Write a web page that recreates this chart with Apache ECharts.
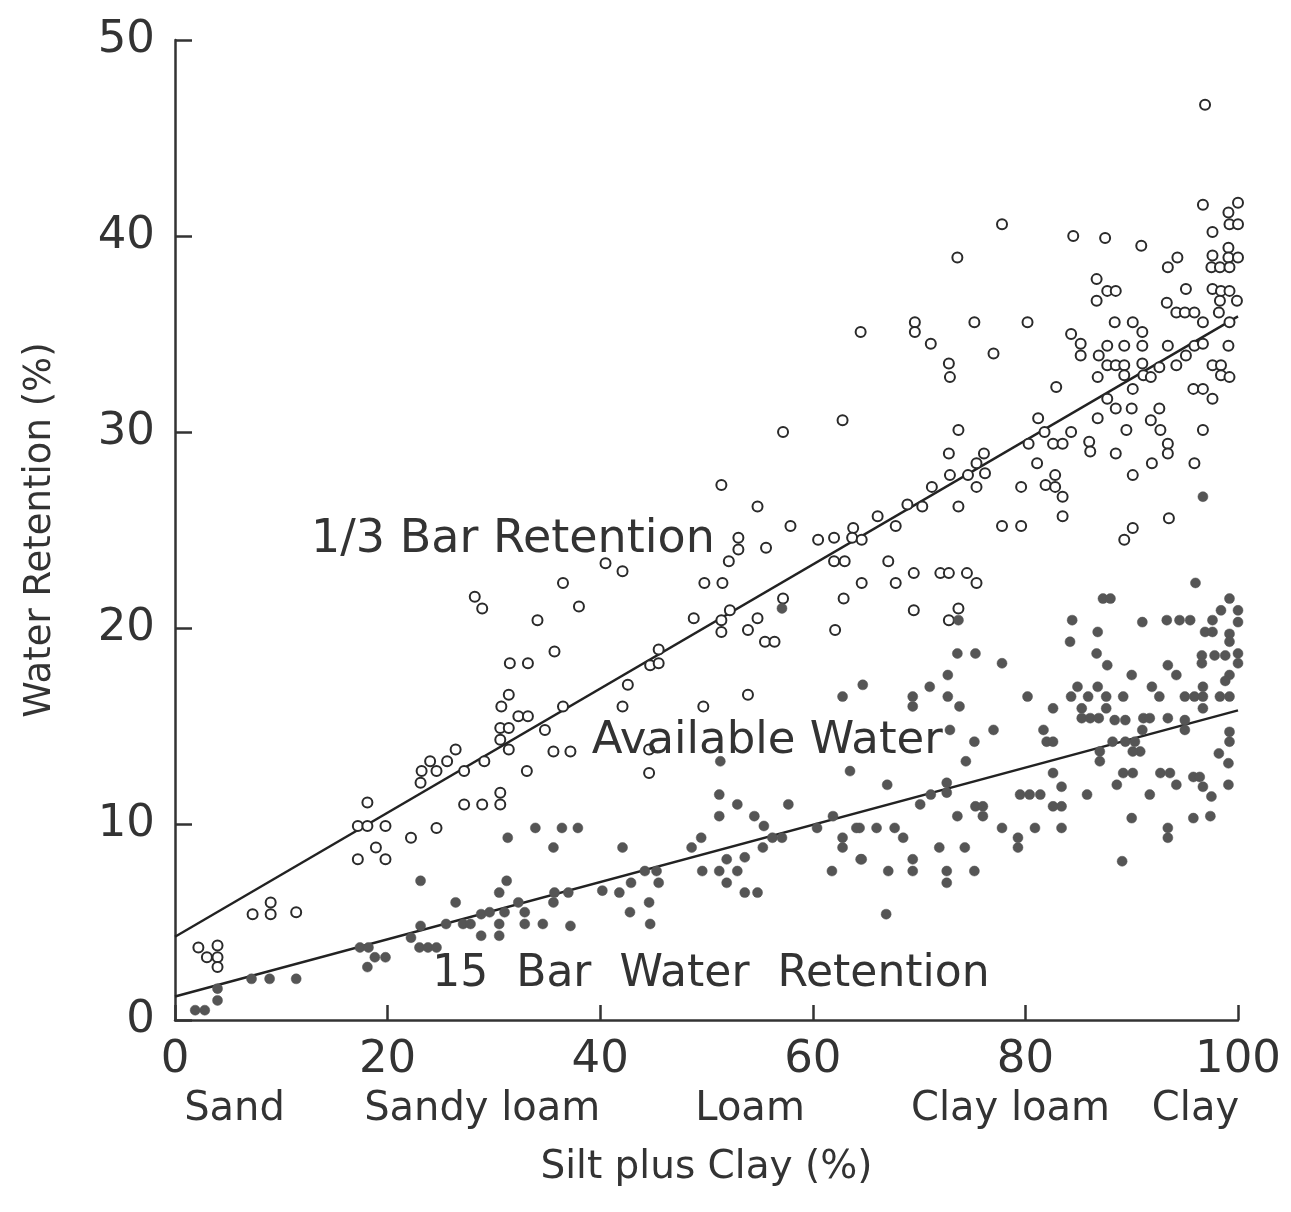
<!DOCTYPE html>
<html><head><meta charset="utf-8">
<script src="https://cdn.jsdelivr.net/npm/echarts@6/dist/echarts.min.js"></script>
<style>html,body{margin:0;padding:0;background:#fff}#c{width:1291px;height:1212px}</style>
</head><body><div id="c"></div>
<script>
// ---- data ----
const xTicks = [0, 20, 40, 60, 80, 100];
const yTicks = [0, 10, 20, 30, 40, 50];
const textureNames = ["Sand", "Sandy loam", "Loam", "Clay loam", "Clay"];
const textureAt = [5.6, 28.9, 54.1, 78.6, 96.0];
const fitThird = [[0, 4.25], [100, 35.9]];
const fitFifteen = [[0, 1.2], [100, 15.8]];
const thirdBar = [
[2.2,3.7],[4.0,3.8],[3.0,3.2],[4.0,3.2],[4.0,2.7],[7.3,5.4],[9.0,6.0],[9.0,5.4],[11.4,5.5],
[17.2,9.9],[18.1,9.9],[19.8,9.9],[18.1,11.1],[17.2,8.2],[18.9,8.8],[19.8,8.2],[22.2,9.3],[24.6,9.8],
[23.1,12.1],[23.2,12.7],[24.0,13.2],[24.6,12.7],[25.6,13.2],
[28.2,21.6],[28.9,21.0],[36.5,22.3],[38.0,21.1],[34.1,20.4],[35.7,18.8],[31.5,18.2],[33.2,18.2],
[31.4,16.6],[30.7,16.0],[32.3,15.5],[33.2,15.5],[30.6,14.9],[31.4,14.9],[30.6,14.3],[34.8,14.8],
[36.5,16.0],[42.1,16.0],[42.6,17.1],[40.5,23.3],[42.1,22.9],[31.4,13.8],[35.6,13.7],[37.2,13.7],
[33.1,12.7],[30.6,11.6],[30.6,11.0],[28.9,11.0],[27.2,11.0],[29.1,13.2],[27.2,12.7],[26.4,13.8],
[57.2,30.0],[62.8,30.6],[51.4,27.3],[54.8,26.2],[57.9,25.2],[53.0,24.6],[53.0,24.0],[55.6,24.1],
[52.1,23.4],[49.8,22.3],[51.5,22.3],[60.5,24.5],[62.0,24.6],[63.8,25.1],[63.7,24.6],[64.6,24.5],
[66.1,25.7],[67.8,25.2],[62.0,23.4],[63.0,23.4],[67.1,23.4],[64.6,22.3],[67.8,22.3],[62.9,21.5],
[62.1,19.9],[57.2,21.5],[52.2,20.9],[48.8,20.5],[51.4,20.4],[51.4,19.8],[54.8,20.5],[53.9,19.9],
[55.5,19.3],[56.4,19.3],[45.5,18.9],[44.7,18.1],[45.5,18.2],[53.9,16.6],
[64.5,35.1],[44.6,12.6],[44.6,13.8],[49.7,16.0],
[77.8,40.6],[73.6,38.9],[84.5,40.0],[87.5,39.9],[90.9,39.5],[96.7,41.6],[100,41.7],[99.1,41.2],
[99.2,40.6],[100,40.6],[97.6,40.2],[94.3,38.9],[93.4,38.4],[97.6,39.0],[99.1,39.4],[99.1,38.9],
[100,38.9],[97.5,38.4],[98.3,38.4],[99.2,38.4],[86.7,37.8],[87.7,37.2],[88.5,37.2],[86.7,36.7],
[95.1,37.3],[97.6,37.3],[98.4,37.2],[99.2,37.2],[98.3,36.7],[99.9,36.7],[93.3,36.6],[94.2,36.1],
[95.0,36.1],[95.9,36.1],[98.2,36.1],[96.7,35.6],[99.2,35.6],[69.6,35.6],[69.6,35.1],[75.2,35.6],
[80.2,35.6],[71.1,34.5],[77.0,34.0],[72.8,33.5],[72.9,32.8],[84.3,35.0],[85.2,34.5],[85.2,33.9],
[86.9,33.9],[88.4,35.6],[90.1,35.6],[91.0,35.1],[87.7,34.4],[89.3,34.4],[91.0,34.4],[93.4,34.4],
[95.9,34.4],[96.7,34.5],[99.1,34.4],[95.1,33.9],[87.7,33.4],[88.5,33.4],[89.3,33.4],[91.0,33.5],
[89.3,32.9],[91.1,32.9],[91.8,32.8],[92.6,33.3],[94.2,33.4],[97.6,33.4],[98.4,33.4],[98.4,32.9],
[99.2,32.8],[86.8,32.8],[82.9,32.3],[90.1,32.2],[95.8,32.2],[96.7,32.2],[97.6,31.7],[87.7,31.7],
[88.5,31.2],[90.0,31.2],[92.6,31.2],[81.2,30.7],[86.8,30.7],[91.8,30.6],[73.7,30.1],[81.8,30.0],
[84.3,30.0],[89.5,30.1],[92.7,30.1],[96.7,30.1],[80.3,29.4],[82.6,29.4],[83.5,29.4],[86.0,29.5],
[86.1,29.0],[88.5,28.9],[93.4,29.4],[93.4,28.9],[72.8,28.9],[76.1,28.9],[75.4,28.4],[72.9,27.8],
[74.6,27.8],[76.2,27.9],[75.4,27.2],[81.1,28.4],[91.9,28.4],[95.9,28.4],[71.2,27.2],[79.6,27.2],
[81.9,27.3],[82.8,27.8],[82.8,27.2],[83.5,26.7],[90.1,27.8],[68.9,26.3],[70.3,26.2],[73.7,26.2],
[77.8,25.2],[79.6,25.2],[83.5,25.7],[90.1,25.1],[93.5,25.6],[89.3,24.5],
[69.5,22.8],[72.0,22.8],[72.8,22.8],[74.5,22.8],[75.4,22.3],[69.5,20.9],[73.7,21.0],[72.8,20.4],
[96.9,46.7]
];
const fifteenBar = [
[1.9,0.5],[2.8,0.5],[4.0,1.0],[4.0,1.6],[7.2,2.1],[8.9,2.1],[11.4,2.1],[17.4,3.7],[18.2,3.7],
[18.8,3.2],[19.8,3.2],[18.1,2.7],[22.2,4.2],[23.1,4.8],[23.1,7.1],[23.0,3.7],[23.8,3.7],[24.6,3.7],
[25.5,4.9],[31.3,9.3],[33.9,9.8],[36.4,9.8],[37.9,9.8],[35.6,8.8],[42.1,8.8],
[57.1,21.0],[64.7,17.1],[62.8,16.5],[96.7,26.7],[73.7,20.4],
[96.0,22.3],[99.2,21.5],[98.4,20.9],[100,20.9],[100,20.3],[97.6,20.4],[93.3,20.4],[94.5,20.4],
[95.5,20.4],[87.3,21.5],[88.0,21.5],[84.4,20.4],[86.8,19.8],[91.0,20.3],[84.2,19.3],[96.9,19.8],
[97.6,19.8],[99.2,19.7],[99.2,19.3],[86.7,18.7],[87.7,18.1],[96.6,18.6],[97.8,18.6],[98.8,18.6],
[100,18.7],[100,18.2],[96.6,18.2],[93.4,18.1],[90.0,17.6],[94.2,17.6],[99.2,17.6],[98.8,17.3],
[91.9,17.0],[92.6,16.5],[96.7,17.0],[95.0,16.5],[95.9,16.5],[96.7,16.5],[98.3,16.5],[99.2,16.5],
[96.7,15.9],[84.9,17.0],[86.8,17.0],[84.3,16.5],[85.9,16.5],[87.6,16.5],[89.2,16.5],[85.3,15.9],
[87.6,15.9],[85.3,15.4],[86.1,15.4],[86.9,15.4],[88.4,15.3],[89.4,15.3],[91.1,15.4],[91.7,15.4],
[93.4,15.4],[95.0,15.3],[95.0,14.8],[91.0,14.8],[99.2,14.7],[99.2,14.2],[88.2,14.2],[89.4,14.2],
[90.3,14.2],[90.8,13.7],[90.1,13.7],[87.0,13.7],[87.0,13.2],[98.2,13.6],[99.1,13.1],[81.7,14.8],
[82.0,14.2],[82.6,14.2],[80.2,16.5],[82.6,15.9],[82.6,12.6],[83.4,11.9],[83.4,10.9],[82.6,10.9],
[79.5,11.5],[80.4,11.5],[81.4,11.5],[89.2,12.6],[90.1,12.6],[88.6,12.0],[92.7,12.6],[93.6,12.6],
[94.2,12.0],[95.8,12.4],[96.4,12.4],[96.7,11.9],[97.5,11.4],[99.1,12.0],[91.7,11.5],[85.8,11.5],
[90.0,10.3],[93.4,9.8],[93.4,9.3],[95.8,10.3],[97.4,10.4],[89.1,8.1],[77.8,18.2],[75.3,18.7],
[73.6,18.7],[72.7,17.6],[71.0,17.0],[72.7,16.5],[73.8,16.0],[69.4,16.5],[69.4,16.0],[72.9,14.8],
[75.2,14.2],[77.0,14.8],[74.4,13.2],[67.0,12.0],[71.1,11.5],[72.6,12.1],[72.6,11.6],[70.1,11.0],
[75.3,10.9],[76.0,10.9],[76.0,10.4],[73.6,10.4],[64.4,9.8],[66.0,9.8],[67.7,9.8],[68.5,9.3],
[77.8,9.8],[79.3,9.3],[79.3,8.8],[80.9,9.8],[83.4,9.8],[71.9,8.8],[74.3,8.8],[69.4,8.2],[69.4,7.6],
[67.1,7.6],[72.6,7.6],[72.6,7.0],[75.2,7.6],[64.6,8.2],
[51.3,13.2],[51.2,11.5],[51.2,10.4],[52.9,11.0],[54.5,10.4],[55.4,9.9],[57.7,11.0],[63.5,12.7],
[49.5,9.3],[48.6,8.8],[31.2,7.1],[30.5,6.5],[26.4,6.0],[28.8,5.4],[29.6,5.5],[31.0,5.5],[32.3,6.0],
[32.9,5.5],[30.5,4.9],[30.5,4.3],[28.8,4.3],[32.9,4.9],[34.6,4.9],[37.2,4.8],[35.6,6.0],[35.7,6.5],
[37.0,6.5],[40.2,6.6],[41.8,6.5],[42.9,7.0],[44.2,7.6],[45.3,7.6],[45.5,7.0],[44.6,6.0],[42.8,5.5],
[44.7,4.9],[49.6,7.6],[51.2,7.6],[52.9,7.6],[51.9,8.2],[53.6,8.3],[51.9,7.0],[53.6,6.5],[54.8,6.5],
[55.3,8.8],[56.2,9.3],[57.1,9.3],[60.4,9.8],[61.9,10.4],[62.8,9.3],[62.8,8.8],[64.1,9.8],[64.5,8.2],
[61.8,7.6],[27.1,4.9],[27.8,4.9],[66.9,5.4]
];
const annotations = [
  {text: "1/3 Bar Retention", at: [12.8, 24.5], size: 46},
  {text: "Available Water", at: [39.2, 14.2], size: 45},
  {text: "15  Bar  Water  Retention", at: [24.2, 2.3], size: 44}
];

const ink = '#333';
const FONT = 'DejaVu Sans';
const chart = echarts.init(document.getElementById('c'));
const option = {
  backgroundColor: '#fff',
  animation: false,
  grid: {left: 175, right: 53, top: 40, bottom: 192, containLabel: false, outerBoundsMode: 'none'},
  xAxis: {
    type: 'value', min: 0, max: 100, interval: 20,
    name: 'Silt plus Clay (%)', nameLocation: 'middle', nameGap: 128,
    nameTextStyle: {fontFamily: FONT, fontSize: 39, color: ink},
    axisLine: {lineStyle: {color: ink, width: 2.5}},
    axisTick: {inside: true, length: 15, lineStyle: {color: ink, width: 2.5}},
    axisLabel: {fontFamily: FONT, fontSize: 45, color: ink, margin: 18,
      formatter: v => xTicks.includes(v) ? String(v) : ''},
    splitLine: {show: false}
  },
  yAxis: {
    type: 'value', min: 0, max: 50, interval: 10,
    name: 'Water Retention (%)', nameLocation: 'middle', nameGap: 116, nameRotate: 90,
    nameTextStyle: {fontFamily: FONT, fontSize: 37, color: ink},
    axisLine: {lineStyle: {color: ink, width: 2.5}},
    axisTick: {inside: true, length: 17, lineStyle: {color: ink, width: 2.5}},
    axisLabel: {fontFamily: FONT, fontSize: 45, color: ink, margin: 20,
      formatter: v => yTicks.includes(v) ? String(v) : ''},
    splitLine: {show: false}
  },
  series: [
    {type: 'line', data: fitThird, symbol: 'none', silent: true,
     lineStyle: {color: '#222', width: 2.4}, z: 3},
    {type: 'line', data: fitFifteen, symbol: 'none', silent: true,
     lineStyle: {color: '#222', width: 2.4}, z: 3},
    {type: 'scatter', name: '1/3 bar', data: thirdBar, symbol: 'circle', symbolSize: 10,
     itemStyle: {color: '#fff', borderColor: '#2a2a2a', borderWidth: 2, opacity: 1}, z: 4},
    {type: 'scatter', name: '15 bar', data: fifteenBar, symbol: 'circle', symbolSize: 10,
     itemStyle: {color: '#555', borderColor: '#555', borderWidth: 0.5, opacity: 1}, z: 4}
  ]
};
chart.setOption(option);

const axisY = chart.convertToPixel({gridIndex: 0}, [0, 0])[1];
const els = [];
textureNames.forEach((t, i) => {
  const px = chart.convertToPixel({gridIndex: 0}, [textureAt[i], 0]);
  els.push({type: 'text', x: px[0], y: axisY + 90,
    style: {text: t, fontFamily: FONT, fontSize: 40, fill: ink, align: 'center', verticalAlign: 'middle'}});
});
annotations.forEach(a => {
  const px = chart.convertToPixel({gridIndex: 0}, a.at);
  els.push({type: 'text', x: px[0], y: px[1], z: 10,
    style: {text: a.text, fontFamily: FONT, fontSize: a.size, fill: ink, align: 'left', verticalAlign: 'middle'}});
});
chart.setOption({graphic: {elements: els}});
</script></body></html>
